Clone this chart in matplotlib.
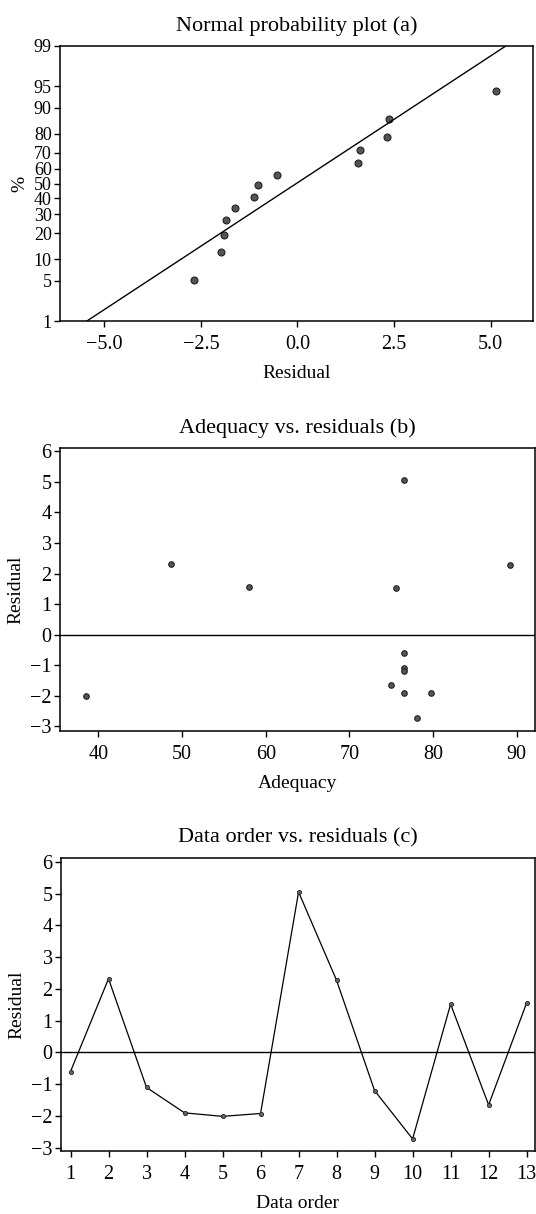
import numpy as np
import matplotlib
matplotlib.use("Agg")
import matplotlib.pyplot as plt
from matplotlib.ticker import FuncFormatter
from statistics import NormalDist

plt.rcParams['font.family'] = ['Liberation Serif', 'DejaVu Serif']

# residuals in data order (c), and the matching adequacy values (b)
order = list(range(1, 14))
residual = [-0.60, 2.32, -1.10, -1.90, -2.01, -1.92, 5.05, 2.27, -1.20, -2.72, 1.52, -1.65, 1.56]
adequacy = [76.5, 48.7, 76.5, 76.5, 38.5, 79.8, 76.5, 89.2, 76.5, 78.1, 75.6, 75.0, 58.0]

# normal probability plot (a): sorted residuals and their percent positions
prob_resid = [-2.67, -1.98, -1.89, -1.84, -1.61, -1.12, -1.03, -0.54, 1.57, 1.62, 2.33, 2.38, 5.13]
prob_pct = [5.2, 12.4, 19.3, 26.6, 33.8, 41.2, 48.7, 56.0, 63.5, 71.3, 78.6, 86.3, 94.2]
pct_ticks = [1, 5, 10, 20, 30, 40, 50, 60, 70, 80, 90, 95, 99]

nd = NormalDist()
to_z = np.vectorize(lambda v: nd.inv_cdf(min(max(v, 1e-6), 100 - 1e-6) / 100.0), otypes=[float])
from_z = np.vectorize(lambda v: nd.cdf(v) * 100.0, otypes=[float])

W, H = 536, 1214
fig = plt.figure(figsize=(W / 100, H / 100), dpi=100)

def box(l, t, r, b):
    return [l / W, 1 - b / H, (r - l) / W, (b - t) / H]

ax1 = fig.add_axes(box(60, 46, 533, 321))
ax2 = fig.add_axes(box(60, 448, 535, 731))
ax3 = fig.add_axes(box(61, 858, 535, 1151))

mk = dict(marker='o', mfc='#555555', mec='#222222', mew=0.8, ls='none')

# (a) normal probability plot
ax1.set_yscale('function', functions=(to_z, from_z))
ax1.plot(prob_resid, prob_pct, ms=5, **mk)
mu = np.mean(residual)
sd = np.std(residual, ddof=1)
ends = np.array([1.0, 99.0])
ax1.plot(mu + sd * to_z(ends), ends, color='black', lw=1)
ax1.set_ylim(1, 99)
ax1.set_yticks(pct_ticks)
ax1.set_yticklabels([str(p) for p in pct_ticks])
ax1.minorticks_off()
ax1.set_xlim(-6.15, 6.1)
ax1.set_xticks([-5.0, -2.5, 0.0, 2.5, 5.0])
ax1.xaxis.set_major_formatter(FuncFormatter(lambda v, p: f"{v:.1f}".replace('-', '\u2212')))
ax1.set_xlabel('Residual')
ax1.set_ylabel('%')
ax1.set_title('Normal probability plot (a)')

# (b) adequacy vs residuals
ax2.plot(adequacy, residual, ms=4, **mk)
ax2.axhline(0, color='black', lw=1)
ax2.set_xlim(35.4, 92.2)
ax2.set_ylim(-3.15, 6.11)
ax2.set_xticks([40, 50, 60, 70, 80, 90])
ax2.set_yticks(range(-3, 7))
ax2.set_xlabel('Adequacy')
ax2.set_ylabel('Residual')
ax2.set_title('Adequacy vs. residuals (b)')

# (c) data order vs residuals
ax3.plot(order, residual, color='black', lw=0.9, marker='o', ms=3,
         mfc='#666666', mec='#222222', mew=0.6)
ax3.axhline(0, color='black', lw=1)
ax3.set_xlim(0.75, 13.22)
ax3.set_ylim(-3.1, 6.12)
ax3.set_xticks(order)
ax3.set_yticks(range(-3, 7))
ax3.set_xlabel('Data order')
ax3.set_ylabel('Residual')
ax3.set_title('Data order vs. residuals (c)')

for ax in (ax1, ax2, ax3):
    for s in ax.spines.values():
        s.set_linewidth(1.1)
    ax.tick_params(direction='out', length=4, width=1, labelsize=14.5,
                   top=False, right=False)
    ax.tick_params(axis='x', pad=6)
    ax.tick_params(axis='y', pad=2)
    ax.xaxis.label.set_fontsize(14)
    ax.yaxis.label.set_fontsize(14)
    ax.set_title(ax.get_title(), fontsize=16, pad=11)
    ax.xaxis.labelpad = 8
    ax.yaxis.labelpad = 4

# the percent labels sit very close together on the probability scale
ax1.tick_params(axis='y', labelsize=13)

fig.savefig('out.png', dpi=100)
